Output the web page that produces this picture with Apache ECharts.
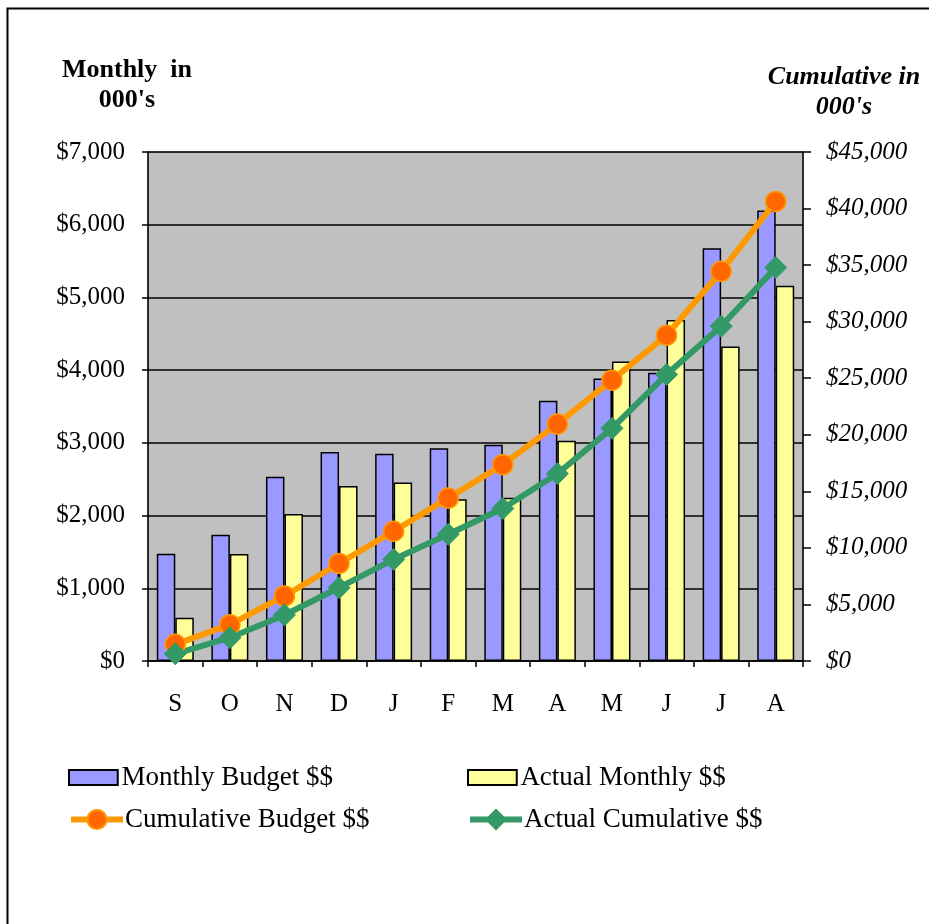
<!DOCTYPE html>
<html>
<head>
<meta charset="utf-8">
<script src="https://cdn.jsdelivr.net/npm/echarts@6/dist/echarts.min.js"></script>
<style>
  html, body { margin: 0; padding: 0; background: #fff; }
  #myChart { width: 929px; height: 924px; }
</style>
</head>
<body>
<div id="myChart"></div>
<script>
// months Sep -> Aug
var months = ["S", "O", "N", "D", "J", "F", "M", "A", "M", "J", "J", "A"];
// monthly values ($)
var monthlyBudget = [1475, 1735, 2535, 2875, 2850, 2925, 2975, 3580, 3885, 3965, 5675, 6195];
var actualMonthly = [595, 1470, 2020, 2405, 2455, 2225, 2245, 3030, 4120, 4690, 4325, 5160];
// cumulative values ($)
var cumulativeBudget = [1470, 3210, 5750, 8620, 11470, 14400, 17360, 20950, 24830, 28800, 34450, 40630];
var actualCumulative = [640, 2060, 4070, 6480, 8980, 11200, 13480, 16560, 20570, 25330, 29600, 34780];

var fontFam = "Liberation Serif";

function money(v) {
  return "$" + v.toLocaleString("en-US");
}

var myChart = echarts.init(document.getElementById("myChart"));

// legend settings shared by the 4 entries
function legendItem(item, left, top, h) {
  return {
    data: [item],
    left: left, top: top,
    padding: 0,
    itemWidth: 52, itemHeight: h,
    lineStyle: { width: 6 },
    textStyle: { fontSize: 27, fontFamily: fontFam, color: "#000", padding: [0, 0, 0, -3] }
  };
}

var option = {
  backgroundColor: "#fff",
  animation: false,
  textStyle: { fontFamily: fontFam, color: "#000" },
  graphic: [
    // outer frame
    {
      type: "rect",
      shape: { x: 7.5, y: 8.5, width: 1000, height: 1000 },
      style: { fill: null, stroke: "#000", lineWidth: 2 }
    },
    {
      type: "text",
      x: 127, y: 55,
      style: {
        text: "Monthly  in\n000's",
        align: "center",
        verticalAlign: "top",
        lineHeight: 30,
        font: "bold 26px " + fontFam,
        fill: "#000"
      }
    },
    {
      type: "text",
      x: 844, y: 62,
      style: {
        text: "Cumulative in\n000's",
        align: "center",
        verticalAlign: "top",
        lineHeight: 30,
        font: "italic bold 26px " + fontFam,
        fill: "#000"
      }
    }
  ],
  grid: {
    left: 148,
    right: 126,
    top: 152,
    height: 509,
    show: true,
    backgroundColor: "#C0C0C0",
    borderColor: "#808080",
    borderWidth: 1
  },
  legend: [
    legendItem({ name: "Monthly Budget $$", icon: "path://M0,0L52,0L52,16L0,16Z" }, 68, 764, 15),
    legendItem({ name: "Actual Monthly $$", icon: "path://M0,0L52,0L52,16L0,16Z" }, 467, 764, 15),
    legendItem({ name: "Cumulative Budget $$" }, 68, 806, 24),
    legendItem({ name: "Actual Cumulative $$" }, 467, 806, 24)
  ],
  xAxis: {
    type: "category",
    data: months,
    boundaryGap: true,
    axisLine: { lineStyle: { color: "#000", width: 1.5 } },
    axisTick: { show: true, length: 6, lineStyle: { color: "#000", width: 1.5 } },
    axisLabel: { fontSize: 25, color: "#000", margin: 31, fontFamily: fontFam }
  },
  yAxis: [
    {
      type: "value",
      min: 0, max: 7000, interval: 1000,
      axisLine: { show: true, lineStyle: { color: "#000", width: 1.5 } },
      axisTick: { show: true, length: 6, lineStyle: { color: "#000", width: 1.5 } },
      splitLine: { show: true, lineStyle: { color: "#000", width: 1.5 } },
      axisLabel: { fontSize: 25, color: "#000", margin: 23, fontFamily: fontFam, formatter: money }
    },
    {
      type: "value",
      position: "right",
      min: 0, max: 45000, interval: 5000,
      axisLine: { show: true, lineStyle: { color: "#000", width: 1.5 } },
      axisTick: { show: true, length: 8, lineStyle: { color: "#000", width: 1.5 } },
      splitLine: { show: false },
      axisLabel: { fontSize: 25, color: "#000", margin: 23, fontStyle: "italic", fontFamily: fontFam, formatter: money }
    }
  ],
  series: [
    {
      name: "Monthly Budget $$",
      type: "bar",
      data: monthlyBudget,
      barWidth: 18.5,
      barGap: "0%",
      itemStyle: { color: "#9999FF", borderColor: "#000", borderWidth: 1.5 }
    },
    {
      name: "Actual Monthly $$",
      type: "bar",
      data: actualMonthly,
      barWidth: 18.5,
      barGap: "0%",
      itemStyle: { color: "#FFFF99", borderColor: "#000", borderWidth: 1.5 }
    },
    {
      name: "Cumulative Budget $$",
      type: "line",
      yAxisIndex: 1,
      data: cumulativeBudget,
      symbol: "circle",
      symbolSize: 20,
      lineStyle: { color: "#FF9900", width: 6 },
      itemStyle: { color: "#FF6600", borderColor: "#FF9900", borderWidth: 1.5 }
    },
    {
      name: "Actual Cumulative $$",
      type: "line",
      yAxisIndex: 1,
      data: actualCumulative,
      symbol: "diamond",
      symbolSize: 22,
      lineStyle: { color: "#339966", width: 6 },
      itemStyle: { color: "#339966", borderColor: "#339966", borderWidth: 1 }
    }
  ]
};

myChart.setOption(option);
</script>
</body>
</html>
